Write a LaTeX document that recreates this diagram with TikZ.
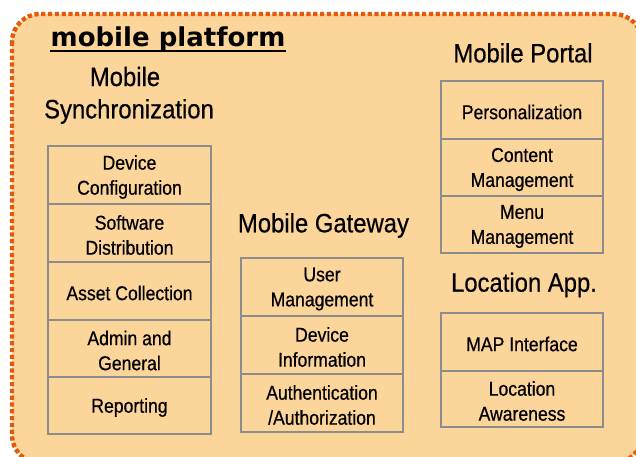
\documentclass[tikz,border=0pt]{standalone}
\usepackage{fontspec}
\usetikzlibrary{calc}
\setmainfont{Liberation Sans}[FakeBold=0.5]
\newfontfamily\headfont{Liberation Sans}[FakeStretch=0.9, FakeBold=0.5]
\newfontfamily\boxfont{Liberation Sans}[FakeStretch=0.88, FakeBold=0.6]
\newfontfamily\titlefont{DejaVu Sans}
\definecolor{bgfill}{HTML}{FCD59A}
\definecolor{dashor}{HTML}{E35A0E}
\definecolor{boxline}{HTML}{8C8C8C}
\tikzset{
  boxtext/.style={align=center, inner sep=0pt, yshift=-2pt,
    font=\boxfont\fontsize{20}{25}\selectfont},
  compbox/.style={draw=boxline, line width=1.4pt, rectangle, inner sep=0pt,
    label={[boxtext]center:#1}},
  heading/.style={font=\headfont\fontsize{26.5}{32}\selectfont, inner sep=0pt, anchor=base},
}
\begin{document}
\begin{tikzpicture}[x=1pt,y=-1pt]
\useasboundingbox (0,0) rectangle (636,456);
\begin{scope}
\clip (0,0) rectangle (636,456);
\draw[dashor, fill=bgfill, line width=4.4pt, dash pattern=on 4.2pt off 2.6pt, rounded corners=28pt] (12,14) rectangle (642,463);
\end{scope}
% title
\node[font=\titlefont\bfseries\fontsize{26}{30}\selectfont, inner sep=0pt, anchor=base] (title) at (168,46) {mobile platform};
\coordinate (ulA) at ($(title.base west)+(0,5)$);
\coordinate (ulB) at ($(title.base east)+(0,5)$);
\draw[line width=2pt] (ulA) -- (ulB);
% headings
\node[heading] (hsync1) at (125,86) {Mobile};
\node[heading] (hsync2) at (129,118.3) {Synchronization};
\node[heading] (hportal) at (523,62.3) {Mobile Portal};
\node[heading] (hgate) at (323.5,232.3) {Mobile Gateway};
\node[heading] (hloc) at (524,291.7) {Location App.};
% sync column
\node[compbox={Device\\Configuration}, minimum width=163pt, minimum height=58pt] (s1) at (129.5,175) {};
\node[compbox={Software\\Distribution}, minimum width=163pt, minimum height=58pt] (s2) at (129.5,233) {};
\node[compbox={Asset Collection}, minimum width=163pt, minimum height=58pt] (s3) at (129.5,291) {};
\node[compbox={Admin and\\General}, minimum width=163pt, minimum height=57pt] (s4) at (129.5,348.5) {};
\node[compbox={Reporting}, minimum width=163pt, minimum height=57pt] (s5) at (129.5,405.5) {};
% gateway column
\node[compbox={User\\Management}, minimum width=162pt, minimum height=58pt] (g1) at (322,287) {};
\node[compbox={Device\\Information}, minimum width=162pt, minimum height=58pt] (g2) at (322,345) {};
\node[compbox={Authentication\\/Authorization}, minimum width=162pt, minimum height=58pt] (g3) at (322,403) {};
% portal column
\node[compbox={Personalization}, minimum width=162pt, minimum height=58pt] (p1) at (522,110) {};
\node[compbox={Content\\Management}, minimum width=162pt, minimum height=57pt] (p2) at (522,167.5) {};
\node[compbox={Menu\\Management}, minimum width=162pt, minimum height=57pt] (p3) at (522,224.5) {};
% location column
\node[compbox={MAP Interface}, minimum width=162pt, minimum height=58pt] (l1) at (522,342) {};
\node[compbox={Location\\Awareness}, minimum width=162pt, minimum height=56pt] (l2) at (522,399) {};
\end{tikzpicture}
\end{document}
